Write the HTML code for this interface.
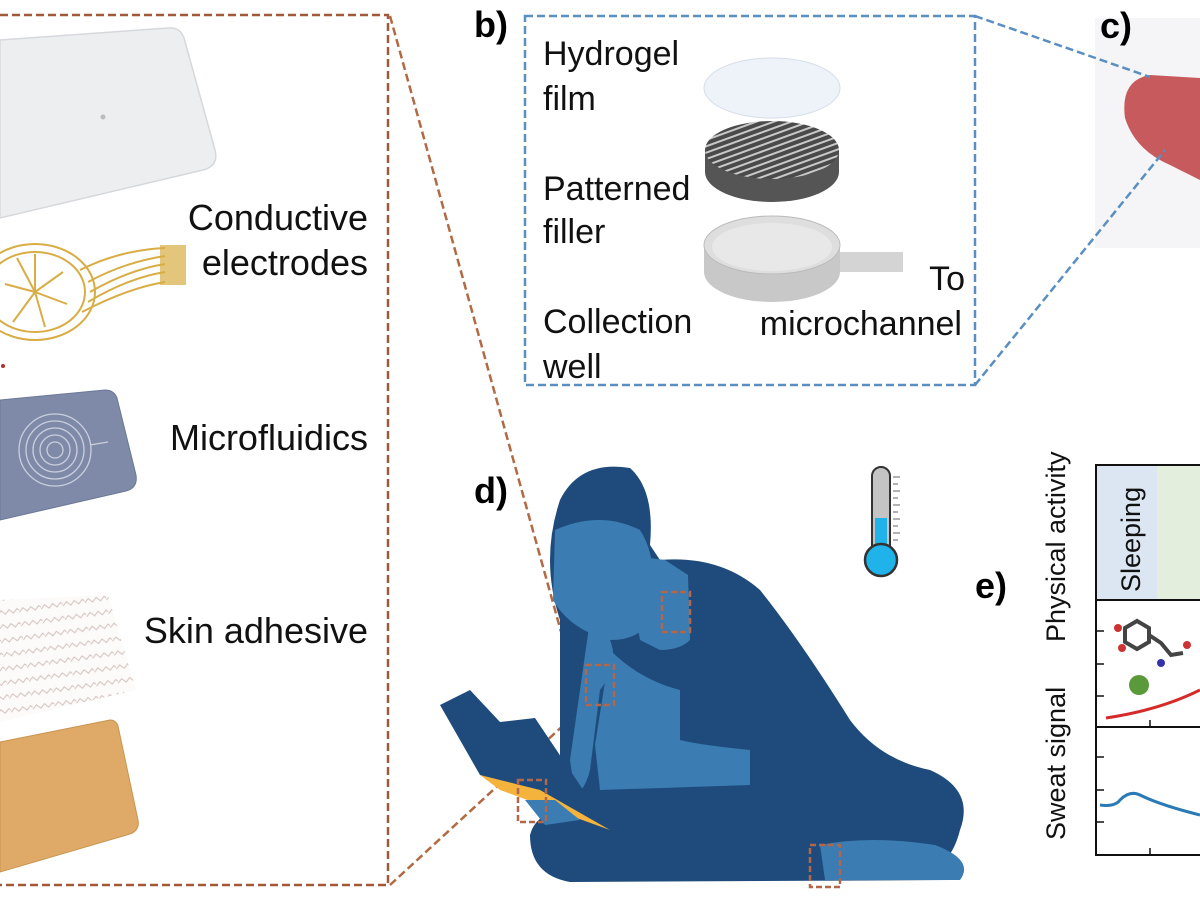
<!DOCTYPE html>
<html><head><meta charset="utf-8"><style>
html,body{margin:0;padding:0;background:#fff;width:1200px;height:900px;overflow:hidden}
text{font-family:"Liberation Sans",Arial,sans-serif}
</style></head><body>
<svg width="1200" height="900" viewBox="0 0 1200 900" xmlns="http://www.w3.org/2000/svg">
<defs>
<pattern id="stripes" width="6" height="6" patternUnits="userSpaceOnUse" patternTransform="rotate(-20)">
<rect width="6" height="6" fill="#4a4a4a"/><rect width="6" height="2" fill="#c9c9c9"/></pattern>
<pattern id="zig" width="22" height="14" patternUnits="userSpaceOnUse" patternTransform="rotate(-8)">
<rect width="22" height="14" fill="#fcfbfa"/><path d="M0 7 l4 -4 l4 4 l4 -4 l4 4 l4 -4 l2 2" fill="none" stroke="#d6c4bf" stroke-width="1"/></pattern>
</defs>

<path d="M0 40 L168 28 Q180 27 184 38 L215 150 Q219 166 203 170 L0 218 Z" fill="#eceef0" stroke="#d6d8dc" stroke-width="1.5"/>
<circle cx="103" cy="117" r="2.5" fill="#bbb"/>
<g fill="none" stroke="#d8ad45" stroke-width="2">
<ellipse cx="35" cy="292" rx="50" ry="40"/>
<ellipse cx="35" cy="292" rx="60" ry="48"/>
<path d="M35 292 l0 -38 M35 292 l28 -20 M35 292 l32 12 M35 292 l10 35 M35 292 l-22 30 M35 292 l-30 -8 M35 292 l-18 -34"/>
<path d="M80 270 Q120 250 165 248 M88 282 Q125 262 165 256 M90 292 Q128 270 165 264 M88 302 Q128 278 165 272 M82 312 Q128 288 165 282"/>
</g>
<rect x="160" y="245" width="26" height="40" fill="#d8ad45" opacity="0.7"/>
<circle cx="3" cy="366" r="2" fill="#b03030"/>
<path d="M0 400 L105 390 Q114 390 117 398 L136 475 Q138 488 126 491 L0 520 Z" fill="#7e8aa8" stroke="#6b7896"/>
<g fill="none" stroke="#c9cfdd" stroke-width="1.3">
<circle cx="55" cy="450" r="8"/><circle cx="55" cy="450" r="15"/><circle cx="55" cy="450" r="22"/><circle cx="55" cy="450" r="29"/><circle cx="55" cy="450" r="36"/><path d="M90 445 L108 442"/></g>
<path d="M0 600 L108 595 L136 690 L0 722 Z" fill="url(#zig)"/>
<path d="M0 742 L110 720 Q116 720 118 726 L138 820 Q140 830 130 834 L0 872 Z" fill="#dfaa67" stroke="#c99452"/>

<path d="M0 15 L388 15 L388 885 L0 885" fill="none" stroke="#a2593a" stroke-width="2.5" stroke-dasharray="8 4"/>
<line x1="390" y1="16" x2="580" y2="700" stroke="#b26a45" stroke-width="2.5" stroke-dasharray="8 4"/>
<line x1="390" y1="885" x2="580" y2="710" stroke="#b26a45" stroke-width="2.5" stroke-dasharray="8 4"/>

<g font-size="36" fill="#111" text-anchor="end">
<text x="368" y="230">Conductive</text>
<text x="368" y="275">electrodes</text>
<text x="368" y="450">Microfluidics</text>
<text x="368" y="643">Skin adhesive</text>
</g>

<text x="474" y="37" font-size="36" font-weight="bold">b)</text>
<rect x="525" y="16" width="450" height="369" fill="none" stroke="#5b8fc0" stroke-width="2.5" stroke-dasharray="8 4"/>
<g font-size="34" fill="#111">
<text x="543" y="65">Hydrogel</text><text x="543" y="110">film</text>
<text x="543" y="200">Patterned</text><text x="543" y="243">filler</text>
<text x="543" y="333">Collection</text><text x="543" y="378">well</text>
<text x="965" y="290" text-anchor="end">To</text>
<text x="962" y="335" text-anchor="end">microchannel</text>
</g>
<ellipse cx="772" cy="88" rx="68" ry="30" fill="#eef3fa" stroke="#d5dde8"/>
<path d="M705 150 L705 172 A67 30 0 0 0 839 172 L839 150 Z" fill="#555"/>
<ellipse cx="772" cy="150" rx="67" ry="29" fill="url(#stripes)"/>
<rect x="835" y="252" width="68" height="20" fill="#d4d4d4"/>
<path d="M704 245 L704 272 A68 30 0 0 0 840 272 L840 245 Z" fill="#c8c8c8"/>
<ellipse cx="772" cy="245" rx="68" ry="29" fill="#dedede" stroke="#bbb"/>
<ellipse cx="772" cy="247" rx="60" ry="24" fill="#e8e8e8"/>

<rect x="1095" y="18" width="105" height="230" fill="#f5f5f8"/>
<path d="M1200 78 L1150 75 Q1120 80 1125 118 Q1135 150 1170 165 L1200 180 Z" fill="#c75a5c"/>
<text x="1100" y="38" font-size="36" font-weight="bold">c)</text>
<line x1="975" y1="16" x2="1150" y2="77" stroke="#5b8fc0" stroke-width="2.5" stroke-dasharray="8 4"/>
<line x1="975" y1="385" x2="1165" y2="150" stroke="#5b8fc0" stroke-width="2.5" stroke-dasharray="8 4"/>

<text x="474" y="503" font-size="36" font-weight="bold">d)</text>
<path d="M560 620 Q540 560 560 500 Q580 460 630 468 Q655 490 650 545 L660 560 Q720 555 760 590 Q800 640 850 720 Q880 760 930 770 Q975 790 960 830 Q955 850 945 860 L950 880 L570 882 Q530 875 530 835 Q535 815 560 810 Z" fill="#1e4b7b"/>
<path d="M555 530 Q600 510 640 530 Q660 560 650 620 Q640 640 610 640 Q570 630 553 600 Z" fill="#3b7cb2"/>
<path d="M625 555 L665 560 L688 575 L690 640 Q680 650 660 650 L640 640 Z" fill="#3b7cb2"/>
<path d="M590 620 L610 640 Q620 665 600 690 L590 770 Q585 790 575 795 L570 760 Z" fill="#3b7cb2"/>
<path d="M610 650 Q640 680 680 690 L680 740 Q700 745 750 750 L750 785 L600 790 L595 745 Z" fill="#3b7cb2"/>
<path d="M820 845 Q870 835 935 845 Q975 860 960 880 L825 880 Z" fill="#3b7cb2"/>
<path d="M440 705 L470 690 L500 722 L535 718 L600 815 L610 830 L555 800 L480 775 Z" fill="#1e4b7b"/>
<path d="M480 775 L540 790 L610 830 L560 812 L500 790 Z" fill="#f4b33c"/>
<path d="M525 800 L555 800 L580 820 L545 825 Z" fill="#3b7cb2"/>
<g fill="none" stroke="#b2674a" stroke-width="2.5" stroke-dasharray="6 3">
<rect x="662" y="592" width="28" height="40"/>
<rect x="586" y="665" width="28" height="40"/>
<rect x="518" y="780" width="28" height="42"/>
<rect x="810" y="845" width="30" height="42"/>
</g>
<rect x="872" y="467" width="18" height="96" rx="9" fill="#c4c4c4" stroke="#333" stroke-width="2"/>
<rect x="875" y="518" width="12" height="42" fill="#1fb3ea"/>
<circle cx="881" cy="560" r="16" fill="#1fb3ea" stroke="#333" stroke-width="2.5"/>
<g stroke="#666" stroke-width="1"><path d="M893 477h7M893 484h5M893 491h7M893 498h5M893 505h7M893 512h5M893 519h7M893 526h5M893 533h7M893 540h5"/></g>

<text x="975" y="598" font-size="36" font-weight="bold">e)</text>
<rect x="1097" y="466" width="60" height="134" fill="#dce6f3"/>
<rect x="1157" y="466" width="43" height="134" fill="#e3efdc"/>
<path d="M1200 465 L1096 465 L1096 855 L1200 855 M1096 600 L1200 600 M1096 727 L1200 727" fill="none" stroke="#111" stroke-width="2"/>
<g stroke="#111" stroke-width="1.5"><path d="M1096 631h8M1096 664h8M1096 696h8M1096 757h8M1096 790h8M1096 822h8M1150 720v7M1150 848v7"/></g>
<text transform="translate(1140,592) rotate(-90)" font-size="27" fill="#111">Sleeping</text>
<text transform="translate(1065,642) rotate(-90)" font-size="27" fill="#111">Physical activity</text>
<text transform="translate(1065,840) rotate(-90)" font-size="27" fill="#111">Sweat signal</text>
<path d="M1106 718 Q1160 710 1200 690" fill="none" stroke="#d62a2a" stroke-width="3"/>
<circle cx="1139" cy="685" r="10" fill="#5a9a3a"/>
<g stroke="#444" stroke-width="4" fill="none"><path d="M1125 628 l12 -7 l12 7 l0 14 l-12 7 l-12 -7 Z"/><path d="M1149 635 l12 8 l10 12 l12 -2"/></g>
<circle cx="1118" cy="628" r="4" fill="#c33"/><circle cx="1122" cy="648" r="4" fill="#c33"/><circle cx="1187" cy="645" r="4" fill="#c33"/><circle cx="1161" cy="663" r="4" fill="#33a"/>
<path d="M1100 805 Q1115 807 1120 800 Q1130 790 1140 795 Q1160 805 1200 815" fill="none" stroke="#2a7ab5" stroke-width="3"/>
</svg>
</body></html>
